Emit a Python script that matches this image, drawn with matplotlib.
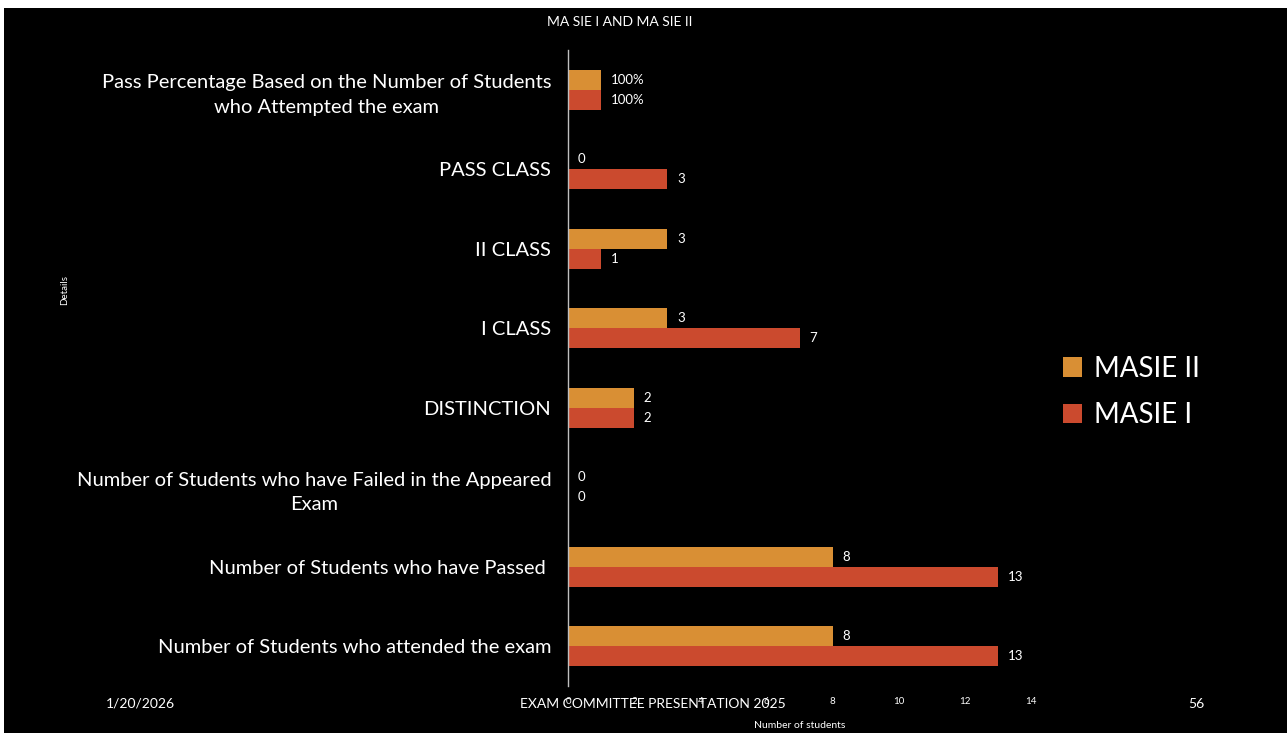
import numpy as np
import matplotlib
matplotlib.use('Agg')
import matplotlib.pyplot as plt
from matplotlib.patches import Rectangle

plt.rcParams['font.family'] = ['Lato', 'DejaVu Sans']

categories = [
    'Number of Students who attended the exam',
    'Number of Students who have Passed ',
    'Number of Students who have Failed in the Appeared\nExam',
    'DISTINCTION',
    'I CLASS',
    'II CLASS',
    'PASS CLASS',
    'Pass Percentage Based on the Number of Students\nwho Attempted the exam',
]
masie_1 = [13, 13, 0, 2, 7, 1, 3, 1.0]
masie_2 = [8, 8, 0, 2, 3, 3, 0, 1.0]
labels_1 = ['13', '13', '0', '2', '7', '1', '3', '100%']
labels_2 = ['8', '8', '0', '2', '3', '3', '0', '100%']
xticks = [0, 2, 4, 6, 8, 10, 12, 14]

c_orange = '#D98F34'
c_red = '#CB4A2E'

W, H = 1287, 733
fig = plt.figure(figsize=(W / 100, H / 100), dpi=100, facecolor='white')
fig.patches.append(Rectangle((4 / W, 0), 1 - 4 / W, 1 - 8 / H, transform=fig.transFigure,
                             facecolor='black', edgecolor='none', zorder=-10))

ax = fig.add_axes([568 / W, 1 - 686 / H, (1031 - 568) / W, 636 / H])
ax.set_facecolor('black')

y = np.arange(len(categories))
h = 0.25
b1 = ax.barh(y - h / 2, masie_1, height=h, color=c_red, label='MASIE I')
b2 = ax.barh(y + h / 2, masie_2, height=h, color=c_orange, label='MASIE II')
ax.bar_label(b1, labels=labels_1, padding=7, color='white', fontsize=9.5)
ax.bar_label(b2, labels=labels_2, padding=7, color='white', fontsize=9.5)

ax.set_ylim(-0.5, len(categories) - 0.5)
ax.set_xlim(0, 14)
ax.set_yticks(y)
ax.set_yticklabels(categories, fontsize=14.5, color='white')
for t in ax.get_yticklabels():
    t.set_multialignment('center')
    t.set_linespacing(1.55)
ax.tick_params(axis='y', length=0, pad=12)
ax.set_xticks(xticks)
ax.set_xticklabels([str(v) for v in xticks], fontsize=7, color='white')
ax.tick_params(axis='x', length=0, pad=8)
for s in ['top', 'right', 'bottom']:
    ax.spines[s].set_visible(False)
ax.spines['left'].set_color('#BFBFBF')
ax.spines['left'].set_linewidth(1)

ax.set_xlabel('Number of students', fontsize=7.5, color='white', labelpad=11)

handles, lbls = ax.get_legend_handles_labels()
leg = fig.legend(handles[::-1], lbls[::-1], loc='center left', bbox_to_anchor=(1038 / W, 1 - 392 / H),
                 frameon=False, fontsize=20, labelcolor='white', handlelength=0.7, handleheight=0.7,
                 handletextpad=0.4, labelspacing=0.75)

fig.text(620 / W, 1 - 22 / H, 'MA SIE I AND MA SIE II', ha='center', va='center', color='white', fontsize=10)
fig.text(65 / W, 1 - 290 / H, 'Details', ha='center', va='center', rotation=90, color='white', fontsize=7)
fig.text(140 / W, 1 - 704 / H, '1/20/2026', ha='center', va='center', color='white', fontsize=10)
fig.text(653 / W, 1 - 704 / H, 'EXAM COMMITTEE PRESENTATION 2025', ha='center', va='center', color='white', fontsize=10)
fig.text(1196 / W, 1 - 704 / H, '56', ha='center', va='center', color='white', fontsize=10)

fig.savefig('out.png', dpi=100, facecolor=fig.get_facecolor())
